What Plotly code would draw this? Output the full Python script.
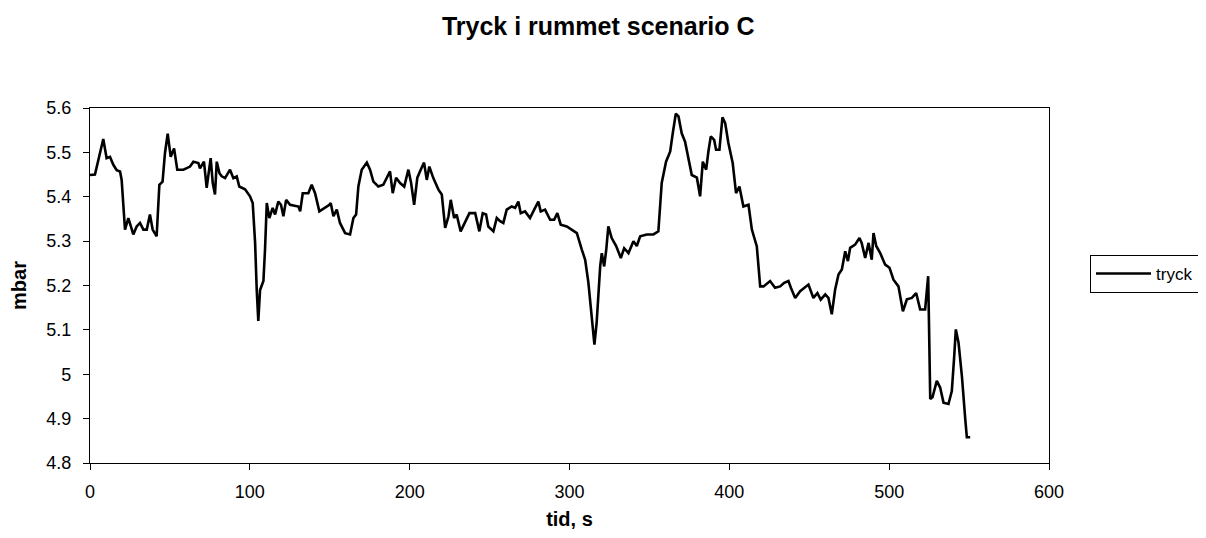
import plotly.graph_objects as go

# Time (s) and pressure (mbar)
tid = [0, 3.1, 8.3, 10.4, 12.5, 14.6, 16.7, 18.8, 19.8, 21.3, 21.9, 24.0, 27.1, 29.2, 31.3,
       33.4, 35.5, 37.5, 39.2, 41.7, 43.4, 45.4, 46.9, 48.6, 50.5, 52.6, 54.6, 58.4, 62.6,
       64.7, 67.8, 68.8, 71.3, 73.0, 74.1, 75.5, 76.8, 78.2, 79.3, 81.0, 82.4, 84.5, 87.6,
       89.7, 91.8, 93.4, 97.0, 100.1, 101.8, 103.3, 104.3, 105.3, 106.4, 108.5, 109.5,
       110.6, 112.2, 114.3, 115.8, 117.8, 119.5, 121.0, 122.7, 125.2, 130.4, 131.5, 133.1,
       136.6, 138.7, 140.8, 143.5, 147.1, 149.8, 150.6, 152.3, 154.4, 156.4, 159.6, 162.7,
       164.8, 166.5, 167.9, 170.0, 173.2, 175.2, 177.3, 180.4, 183.5, 186.7, 187.7, 189.4,
       191.5, 194.0, 196.6, 199.2, 200.9, 202.8, 204.8, 206.9, 209.0, 210.7, 212.3, 214.8,
       218.0, 220.1, 222.2, 224.3, 225.7, 227.8, 229.4, 231.9, 234.7, 237.4, 241.0, 242.0,
       243.6, 245.7, 247.8, 249.2, 252.4, 254.5, 256.6, 258.6, 260.7, 263.9, 266.0, 268.0,
       269.5, 272.2, 275.3, 277.9, 280.5, 282.0, 284.7, 287.9, 290.4, 292.4, 294.5, 298.3,
       301.4, 304.6, 307.7, 309.8, 311.8, 314.0, 315.6, 317.0, 319.2, 320.2, 321.7, 323.0,
       324.3, 326.4, 329.2, 332.1, 334.2, 336.9, 340.0, 342.1, 344.2, 348.4, 352.5, 355.6,
       357.7, 360.4, 363.0, 364.6, 366.5, 368.2, 370.2, 372.3, 374.4, 376.5, 379.7, 381.7,
       383.4, 385.5, 386.9, 388.4, 390.5, 391.7, 393.8, 395.7, 397.4, 399.4, 402.1, 404.2,
       406.3, 408.8, 412.0, 414.1, 417.2, 419.3, 421.4, 425.5, 428.6, 431.8, 434.3, 437.0,
       438.5, 441.2, 444.3, 449.5, 452.6, 455.1, 457.2, 460.0, 462.0, 464.1, 466.2, 468.3,
       470.4, 472.5, 474.2, 475.6, 478.7, 481.4, 482.8, 485.0, 487.1, 489.1, 490.2, 491.9,
       494.4, 497.5, 500.2, 502.7, 505.8, 508.6, 511.1, 514.2, 516.9, 519.4, 522.5, 523.6,
       524.4, 524.9, 525.7, 527.1, 529.8, 531.9, 534.0, 537.1, 539.2, 540.7, 541.7, 543.4,
       545.5, 547.6, 548.6, 550.7]

tryck = [5.449, 5.45, 5.53, 5.487, 5.49, 5.472, 5.46, 5.457, 5.438, 5.341, 5.326, 5.352,
         5.315, 5.333, 5.341, 5.326, 5.326, 5.36, 5.326, 5.311, 5.427, 5.434, 5.498, 5.542,
         5.49, 5.509, 5.461, 5.461, 5.468, 5.479, 5.476, 5.464, 5.479, 5.42, 5.446, 5.487,
         5.431, 5.405, 5.479, 5.453, 5.446, 5.442, 5.461, 5.442, 5.446, 5.423, 5.417, 5.401,
         5.386, 5.296, 5.191, 5.12, 5.19, 5.21, 5.281, 5.386, 5.352, 5.375, 5.36, 5.389,
         5.382, 5.356, 5.393, 5.382, 5.378, 5.367, 5.408, 5.408, 5.427, 5.408, 5.367, 5.375,
         5.382, 5.386, 5.356, 5.371, 5.341, 5.318, 5.315, 5.352, 5.36, 5.423, 5.461, 5.477,
         5.461, 5.434, 5.423, 5.427, 5.453, 5.457, 5.408, 5.443, 5.431, 5.423, 5.461, 5.431,
         5.382, 5.443, 5.461, 5.477, 5.438, 5.468, 5.442, 5.416, 5.405, 5.33, 5.356, 5.393,
         5.352, 5.36, 5.322, 5.345, 5.363, 5.363, 5.345, 5.322, 5.363, 5.36, 5.333, 5.322,
         5.352, 5.345, 5.341, 5.371, 5.378, 5.375, 5.389, 5.363, 5.367, 5.352, 5.371, 5.389,
         5.367, 5.371, 5.348, 5.348, 5.363, 5.337, 5.333, 5.326, 5.318, 5.281, 5.258, 5.207,
         5.117, 5.067, 5.117, 5.243, 5.273, 5.243, 5.281, 5.333, 5.307, 5.289, 5.262, 5.284,
         5.273, 5.3, 5.289, 5.311, 5.315, 5.315, 5.322, 5.431, 5.479, 5.502, 5.543, 5.587,
         5.581, 5.543, 5.524, 5.483, 5.449, 5.443, 5.401, 5.479, 5.461, 5.502, 5.536, 5.528,
         5.506, 5.506, 5.579, 5.566, 5.521, 5.476, 5.408, 5.423, 5.378, 5.382, 5.326, 5.288,
         5.198, 5.198, 5.21, 5.195, 5.198, 5.206, 5.21, 5.195, 5.172, 5.187, 5.202, 5.172,
         5.183, 5.168, 5.18, 5.172, 5.135, 5.191, 5.225, 5.236, 5.277, 5.255, 5.285, 5.292,
         5.307, 5.296, 5.262, 5.296, 5.258, 5.318, 5.289, 5.273, 5.247, 5.24, 5.213, 5.198,
         5.142, 5.169, 5.172, 5.183, 5.146, 5.146, 5.183, 5.221, 5.116, 4.944, 4.948, 4.985,
         4.97, 4.936, 4.933, 4.962, 5.041, 5.101, 5.071, 4.996, 4.899, 4.858, 4.858]

x_ticks = [0, 100, 200, 300, 400, 500, 600]
y_ticks = [4.8, 4.9, 5.0, 5.1, 5.2, 5.3, 5.4, 5.5, 5.6]
y_tick_labels = ["4.8", "4.9", "5", "5.1", "5.2", "5.3", "5.4", "5.5", "5.6"]

FONT = "Liberation Sans, Arial, sans-serif"

# The page body has an 8px default margin, so the figure is sized to fit inside it.
W, H = 1190, 522

fig = go.Figure()
fig.add_trace(go.Scatter(
    x=tid, y=tryck, mode="lines", name="tryck",
    line=dict(color="black", width=2.6),
))

axis_common = dict(
    showgrid=False, zeroline=False, showline=True, linecolor="black", linewidth=1.2,
    ticks="outside", ticklen=6, tickwidth=1, tickcolor="black", automargin=False,
    tickfont=dict(family=FONT, size=18, color="black"),
)

fig.update_layout(
    width=W, height=H,
    paper_bgcolor="white", plot_bgcolor="white",
    margin=dict(l=82, r=149, t=100, b=67),
    title=dict(text="Tryck i rummet scenario C", x=0.53, xref="paper", xanchor="center",
               y=1 - 18 / H, yanchor="middle",
               font=dict(family=FONT, size=25, color="black", weight="bold")),
    xaxis=dict(range=[0, 600], tickvals=x_ticks, mirror=True, ticklabelstandoff=6,
               title=dict(text="tid, s", standoff=11,
                          font=dict(family=FONT, size=20, color="black", weight="bold")),
               **axis_common),
    yaxis=dict(range=[4.8, 5.6], tickvals=y_ticks, ticktext=y_tick_labels, mirror=True,
               ticklabelstandoff=8,
               title=dict(text="mbar", standoff=14,
                          font=dict(family=FONT, size=20, color="black", weight="bold")),
               **axis_common),
    xaxis2=dict(range=[0, 600], overlaying="x", tickvals=x_ticks, ticks="inside", ticklen=6,
                showticklabels=False, showgrid=False, zeroline=False, tickcolor="black",
                automargin=False),
    yaxis2=dict(range=[4.8, 5.6], overlaying="y", tickvals=y_ticks, ticks="inside", ticklen=6,
                showticklabels=False, showgrid=False, zeroline=False, tickcolor="black",
                automargin=False),
    showlegend=True,
    legend=dict(xref="container", yref="container",
                x=(1090 - 8) / W, xanchor="left", y=1 - (274 - 8) / H, yanchor="middle",
                bordercolor="black", borderwidth=1, bgcolor="white",
                itemwidth=55,
                font=dict(family=FONT, size=17, color="black")),
)

fig.write_html("out.html")
